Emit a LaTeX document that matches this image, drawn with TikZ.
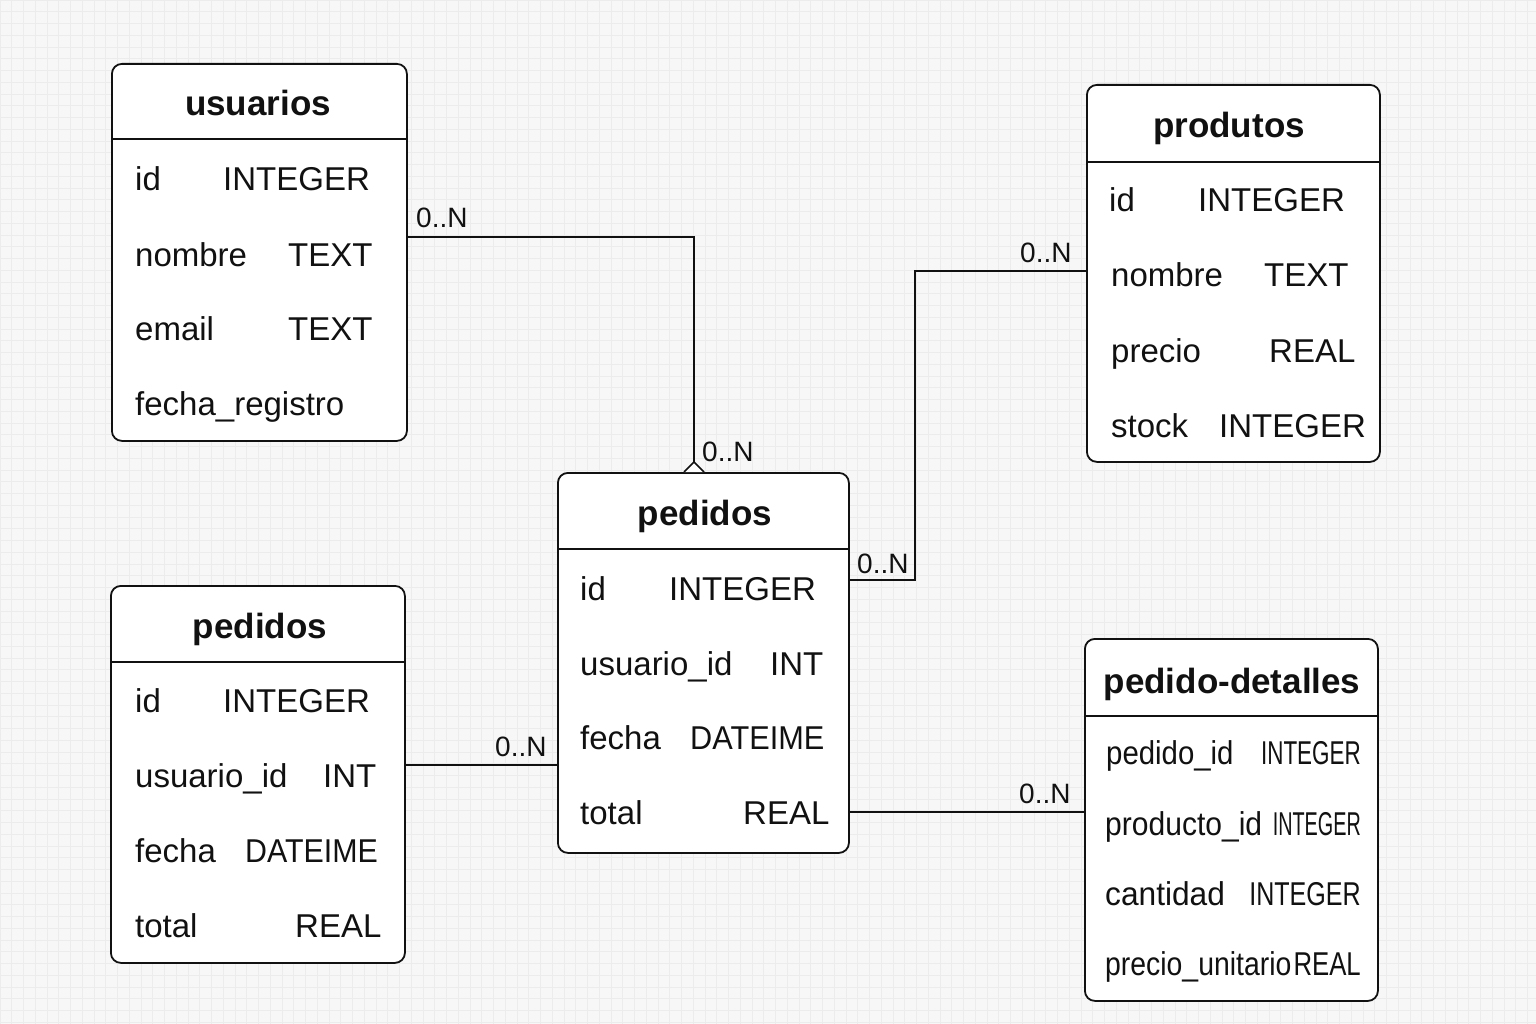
\documentclass[tikz,border=0pt]{standalone}
\usepackage{fontspec}
\setmainfont{Liberation Sans}
\definecolor{bgc}{HTML}{F7F7F7}
\definecolor{gridminor}{HTML}{ECECEC}
\definecolor{ink}{HTML}{111111}
\tikzset{
  tbl/.style={draw=ink, line width=1.8pt, rounded corners=10pt, fill=white, inner sep=0pt},
  sep/.style={draw=ink, line width=1.8pt},
  ttl/.style={anchor=base, inner sep=0pt, font=\fontsize{35}{40}\selectfont\bfseries, text=ink},
  fld/.style={anchor=base west, inner sep=0pt, font=\fontsize{33}{38}\selectfont, text=ink},
  fldr/.style={anchor=base east, inner sep=0pt, font=\fontsize{33}{38}\selectfont, text=ink},
  lbl/.style={anchor=base west, inner sep=0pt, font=\fontsize{28}{31}\selectfont, text=ink},
  conn/.style={draw=ink, line width=1.5pt},
}
\begin{document}
\begin{tikzpicture}[x=1pt,y=-1pt]
\useasboundingbox (0,0) rectangle (1536,1024);
\fill[bgc] (0,0) rectangle (1536,1024);
\foreach \i in {0,...,131} {
  \draw[gridminor, line width=0.8pt] ({11.75*\i},0) -- ({11.75*\i},1024);
}
\foreach \i in {0,...,88} {
  \draw[gridminor, line width=0.8pt] (0,{11.75*\i}) -- (1536,{11.75*\i});
}

% ---------- usuarios ----------
\node[tbl, minimum width=295pt, minimum height=377pt, anchor=north west] (usuarios) at (111,63) {};
\draw[sep] (111,139) -- (406,139);
\node[ttl] (usuariosT) at (258,115.5) {usuarios};
\node[fld] (u1a) at (135,191) {id};
\node[fld] (u1b) at (223,191) {INTEGER};
\node[fld] (u2a) at (135,266) {nombre};
\node[fld] (u2b) at (288,266) {TEXT};
\node[fld] (u3a) at (135,340) {email};
\node[fld] (u3b) at (288,340) {TEXT};
\node[fld] (u4a) at (135,415) {fecha\_registro};

% ---------- produtos ----------
\node[tbl, minimum width=293pt, minimum height=377pt, anchor=north west] (produtos) at (1086,84) {};
\draw[sep] (1086,162) -- (1379,162);
\node[ttl] (produtosT) at (1229,137.5) {produtos};
\node[fld] (p1a) at (1109,212) {id};
\node[fld] (p1b) at (1198,212) {INTEGER};
\node[fld] (p2a) at (1111,287) {nombre};
\node[fld] (p2b) at (1264,287) {TEXT};
\node[fld] (p3a) at (1111,362) {precio};
\node[fld] (p3b) at (1269,362) {REAL};
\node[fld] (p4a) at (1111,437) {stock};
\node[fld] (p4b) at (1219,437) {INTEGER};

% ---------- pedidos (centre) ----------
\node[tbl, minimum width=291pt, minimum height=380pt, anchor=north west] (pedC) at (557,472) {};
\draw[sep] (557,549) -- (848,549);
\node[ttl] (pedCT) at (705,525.5) {pedidos};
\node[fld] (c1a) at (580,600) {id};
\node[fld] (c1b) at (669,600) {INTEGER};
\node[fld] (c2a) at (580,675) {usuario\_id};
\node[fld] (c2b) at (770,675) {INT};
\node[fld] (c3a) at (580,749) {fecha};
\node[fld] (c3b) at (690,749) {\scalebox{0.93}[1]{DATEIME}};
\node[fld] (c4a) at (580,824) {total};
\node[fld] (c4b) at (743,824) {REAL};

% ---------- pedidos (left) ----------
\node[tbl, minimum width=294pt, minimum height=377pt, anchor=north west] (pedL) at (110,585) {};
\draw[sep] (110,662) -- (404,662);
\node[ttl] (pedLT) at (260,638.5) {pedidos};
\node[fld] (l1a) at (135,712) {id};
\node[fld] (l1b) at (223,712) {INTEGER};
\node[fld] (l2a) at (135,787) {usuario\_id};
\node[fld] (l2b) at (323,787) {INT};
\node[fld] (l3a) at (135,862) {fecha};
\node[fld] (l3b) at (245,862) {\scalebox{0.92}[1]{DATEIME}};
\node[fld] (l4a) at (135,937) {total};
\node[fld] (l4b) at (295,937) {REAL};

% ---------- pedido-detalles ----------
\node[tbl, minimum width=293pt, minimum height=362pt, anchor=north west] (det) at (1084,638) {};
\draw[sep] (1084,716) -- (1377,716);
\node[ttl] (detT) at (1232,693.5) {pedido-detalles};
\node[fld] (d1a) at (1106,764) {\scalebox{0.89}[1]{pedido\_id}};
\node[fldr] (d1b) at (1361,764) {\scalebox{0.68}[1]{INTEGER}};
\node[fld] (d2a) at (1105,835) {\scalebox{0.91}[1]{producto\_id}};
\node[fldr] (d2b) at (1361,835) {\scalebox{0.6}[1]{INTEGER}};
\node[fld] (d3a) at (1105,905) {\scalebox{0.96}[1]{cantidad}};
\node[fldr] (d3b) at (1361,905) {\scalebox{0.76}[1]{INTEGER}};
\node[fld] (d4a) at (1105,975) {\scalebox{0.86}[1]{precio\_unitario}};
\node[fldr] (d4b) at (1361,975) {\scalebox{0.78}[1]{REAL}};

% ---------- connectors ----------
\coordinate (k1a) at (406,237);
\coordinate (k1b) at (694,462);
\draw[conn] (k1a) -| (k1b);
\draw[conn, fill=white, line join=miter] (684,472) -- (k1b) -- (704,472);

\coordinate (k2a) at (848,580);
\coordinate (k2b) at (1086,271);
\draw[conn] (k2a) -- (915,580) |- (k2b);

\coordinate (k3a) at (404,765);
\coordinate (k3b) at (557,765);
\draw[conn] (k3a) -- (k3b);

\coordinate (k4a) at (848,812);
\coordinate (k4b) at (1084,812);
\draw[conn] (k4a) -- (k4b);

% ---------- labels ----------
\node[lbl] (n1) at (416,228) {0..N};
\node[lbl] (n2) at (702,461) {0..N};
\node[lbl] (n3) at (857,573) {0..N};
\node[lbl] (n4) at (1020,263) {0..N};
\node[lbl] (n5) at (495,756) {0..N};
\node[lbl] (n6) at (1019,803) {0..N};
\end{tikzpicture}
\end{document}
